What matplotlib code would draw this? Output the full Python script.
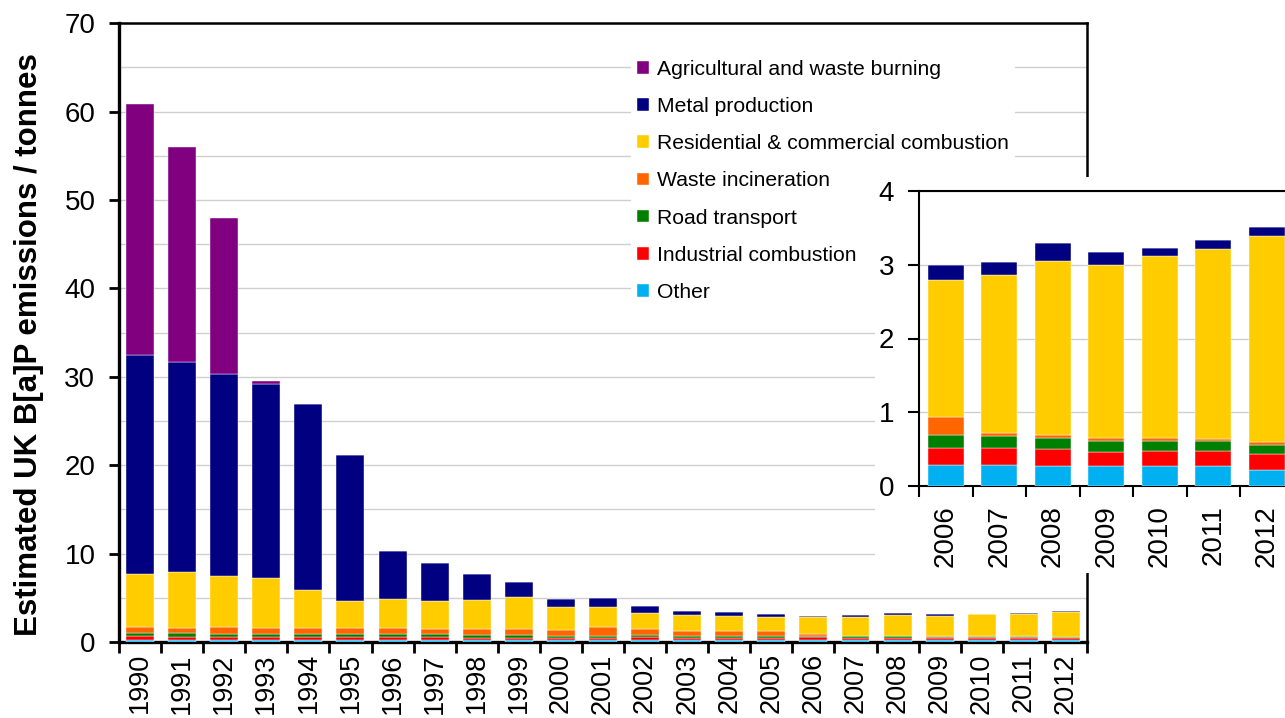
#!/usr/bin/env python3

"""
Stacked bars of estimated UK B[a]P emissions by source, 1990-2012,
with a zoomed inset for 2006-2012.
"""

import numpy as np
import matplotlib.pyplot as plt
from matplotlib.patches import Rectangle

plt.rcParams["font.family"] = ["Liberation Sans", "DejaVu Sans"]

years = [str(y) for y in range(1990, 2013)]

# layer heights (tonnes)
other = [0.25, 0.24, 0.24, 0.24, 0.24, 0.24, 0.24, 0.23, 0.23, 0.23, 0.22, 0.22,
         0.22, 0.22, 0.22, 0.22, 0.285, 0.28, 0.267, 0.267, 0.267, 0.267, 0.222]
industrial = [0.40, 0.38, 0.35, 0.32, 0.32, 0.32, 0.32, 0.30, 0.28, 0.27, 0.25, 0.25,
              0.30, 0.27, 0.26, 0.26, 0.235, 0.23, 0.235, 0.20, 0.213, 0.213, 0.218]
road = [0.35, 0.35, 0.36, 0.34, 0.34, 0.34, 0.35, 0.38, 0.30, 0.30, 0.25, 0.20,
        0.22, 0.18, 0.17, 0.17, 0.17, 0.17, 0.155, 0.145, 0.135, 0.13, 0.12]
waste_incin = [0.67, 0.66, 0.72, 0.69, 0.69, 0.69, 0.68, 0.60, 0.66, 0.67, 0.64, 1.08,
               0.73, 0.63, 0.55, 0.55, 0.25, 0.035, 0.036, 0.04, 0.04, 0.03, 0.04]
residential = [6.04, 6.24, 5.81, 5.66, 4.26, 3.10, 3.25, 3.18, 3.34, 3.61, 2.59, 2.25,
               1.79, 1.72, 1.75, 1.67, 1.85, 2.145, 2.36, 2.34, 2.46, 2.58, 2.79]
metal = [24.79, 23.83, 22.82, 21.95, 21.05, 16.51, 5.46, 4.21, 2.86, 1.70, 0.93, 0.94,
         0.84, 0.47, 0.42, 0.31, 0.20, 0.18, 0.245, 0.18, 0.11, 0.12, 0.12]
agri = [28.3, 24.3, 17.7, 0.3, 0, 0, 0, 0, 0, 0, 0, 0,
        0, 0, 0, 0, 0, 0, 0, 0, 0, 0, 0]

labels = ["Other", "Industrial combustion", "Road transport", "Waste incineration",
          "Residential & commercial combustion", "Metal production",
          "Agricultural and waste burning"]
series = [other, industrial, road, waste_incin, residential, metal, agri]
colors = ["#00B0F0", "#FF0000", "#008000", "#FF6600", "#FFCC00", "#000080", "#800080"]

inset_start = years.index("2006")


def stack(ax, idx, width):
    x = np.arange(len(idx))
    bottom = np.zeros(len(idx))
    handles = []
    for vals, col, lab in zip(series, colors, labels):
        v = np.array(vals)[idx]
        h = ax.bar(x, v, width=width, bottom=bottom, color=col, label=lab,
                   edgecolor="white", linewidth=0.3, zorder=3)
        handles.append(h)
        bottom += v
    return handles


fig = plt.figure(figsize=(12.85, 7.18), dpi=100)

# main chart
ax = fig.add_axes([0.0926, 0.1058, 0.7533, 0.862])
handles = stack(ax, list(range(len(years))), 0.665)
ax.set_xlim(-0.5, len(years) - 0.5)
ax.set_ylim(0, 70)
ax.set_yticks(np.arange(0, 71, 10))
ax.set_yticks(np.arange(5, 70, 10), minor=True)
ax.yaxis.grid(True, which="both", color="#CFCFCF", linewidth=1, zorder=0)
ax.tick_params(axis="y", which="major", direction="out", length=7, width=2,
               labelsize=20, pad=10)
ax.tick_params(axis="y", which="minor", length=0)
ax.set_xticks(np.arange(len(years)))
ax.set_xticklabels(years, rotation=90)
ax.set_xticks(np.arange(len(years) + 1) - 0.5, minor=True)
ax.tick_params(axis="x", which="major", length=0, labelsize=19.5, pad=8)
ax.tick_params(axis="x", which="minor", direction="out", length=8, width=2)
for s in ["left", "bottom"]:
    ax.spines[s].set_linewidth(2.4)
for s in ["top", "right"]:
    ax.spines[s].set_linewidth(1.8)
ax.set_ylabel("Estimated UK B[a]P emissions / tonnes", fontsize=22.5, fontweight="bold")
ax.yaxis.set_label_coords(-0.077, 0.48)

leg = ax.legend(handles[::-1], labels[::-1], loc="upper left",
                bbox_to_anchor=(620 / 1285, 1 - 43 / 718), bbox_transform=fig.transFigure,
                fontsize=15.2, frameon=True, facecolor="white", edgecolor="none",
                framealpha=1, handlelength=0.55, handleheight=0.55,
                handletextpad=0.4, labelspacing=0.86, borderpad=0.3)
leg.set_zorder(5)

# white panel behind the inset
fig.patches.append(Rectangle((875 / 1285, 1 - 573 / 718), 410 / 1285, 396 / 718,
                             transform=fig.transFigure, facecolor="white",
                             edgecolor="none", zorder=1))

# inset 2006-2012
ins = fig.add_axes([919 / 1285, 1 - 486 / 718, 374.5 / 1285, 295 / 718], zorder=2)
idx = list(range(inset_start, len(years)))
stack(ins, idx, 0.667)
ins.set_xlim(-0.5, len(idx) - 0.5)
ins.set_ylim(0, 4)
ins.set_yticks(np.arange(0, 5, 1))
ins.yaxis.grid(True, color="#CFCFCF", linewidth=1, zorder=0)
ins.tick_params(axis="y", direction="out", length=8, width=1.5, labelsize=20, pad=10)
ins.set_xticks(np.arange(len(idx)))
ins.set_xticklabels([years[i] for i in idx], rotation=90)
ins.set_xticks(np.arange(len(idx) + 1) - 0.5, minor=True)
ins.tick_params(axis="x", which="major", length=0, labelsize=20, pad=14)
ins.tick_params(axis="x", which="minor", direction="out", length=8, width=1.5)
for s in ["left", "bottom", "top"]:
    ins.spines[s].set_linewidth(1.5)
ins.spines["right"].set_visible(False)

fig.savefig("out.png", dpi=100)
plt.close()
